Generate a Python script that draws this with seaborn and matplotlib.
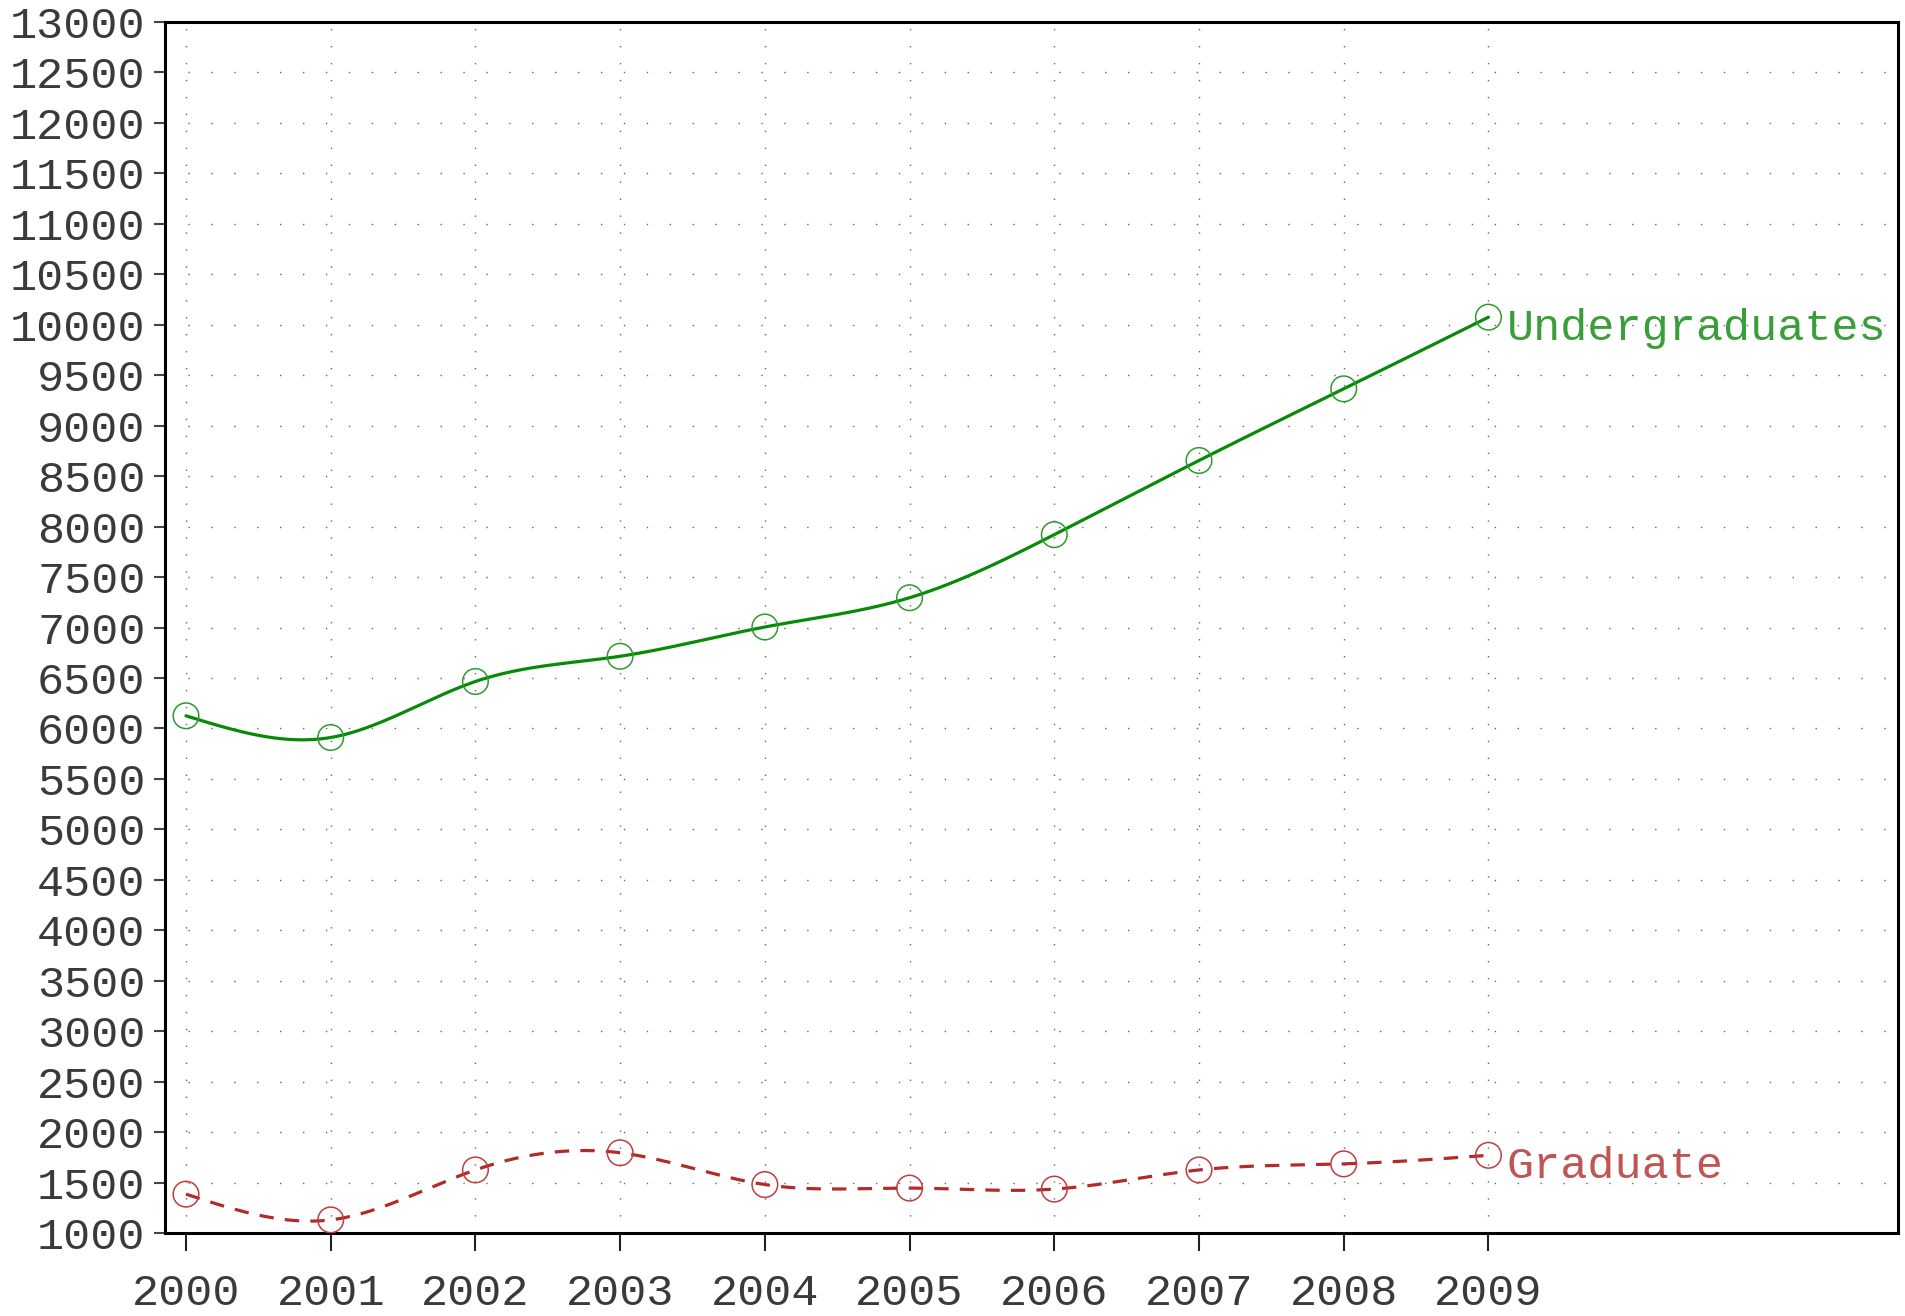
import numpy as np
import pandas as pd
import seaborn as sns
import matplotlib
matplotlib.use("Agg")
import matplotlib.pyplot as plt

years = [2000, 2001, 2002, 2003, 2004, 2005, 2006, 2007, 2008, 2009]
undergrad = [6125, 5910, 6465, 6715, 7005, 7295, 7920, 8655, 9365, 10075]
graduate = [1385, 1130, 1625, 1795, 1480, 1445, 1435, 1625, 1685, 1770]
series_names = ["Undergraduates", "Graduate"]


def natural_spline(x, y, n=400):
    # plain natural cubic spline, just for drawing the smooth curve
    x = np.asarray(x, float)
    y = np.asarray(y, float)
    k = len(x)
    h = np.diff(x)
    A = np.zeros((k, k))
    b = np.zeros(k)
    A[0, 0] = A[-1, -1] = 1
    for i in range(1, k - 1):
        A[i, i - 1] = h[i - 1]
        A[i, i] = 2 * (h[i - 1] + h[i])
        A[i, i + 1] = h[i]
        b[i] = 6 * ((y[i + 1] - y[i]) / h[i] - (y[i] - y[i - 1]) / h[i - 1])
    m = np.linalg.solve(A, b)
    xs = np.linspace(x[0], x[-1], n)
    idx = np.clip(np.searchsorted(x, xs) - 1, 0, k - 2)
    x0, x1 = x[idx], x[idx + 1]
    hh = x1 - x0
    t0, t1 = x1 - xs, xs - x0
    ys = (m[idx] * t0**3 + m[idx + 1] * t1**3) / (6 * hh) \
        + (y[idx] / hh - m[idx] * hh / 6) * t0 \
        + (y[idx + 1] / hh - m[idx + 1] * hh / 6) * t1
    return xs, ys


sns.set_style("white")
plt.rcParams['font.family'] = ['Liberation Mono', 'DejaVu Sans']

fig = plt.figure(figsize=(19.05, 13.16), dpi=100)
ax = fig.add_axes([165 / 1905, 1 - 1233 / 1316, (1898 - 165) / 1905, (1233 - 22) / 1316])

styles = {
    "Undergraduates": dict(line="#078a07", mark="#2e9a2e", text="#3a9e3a", dash=None),
    "Graduate": dict(line="#b22a2a", mark="#c23c3c", text="#c05555", dash=(4.5, 3.5)),
}

for name, vals in zip(series_names, [undergrad, graduate]):
    st = styles[name]
    xs, ys = natural_spline(years, vals)
    curve = pd.DataFrame({"year": xs, "value": ys})
    if st["dash"] is None:
        sns.lineplot(data=curve, x="year", y="value", ax=ax, color=st["line"], lw=2.3)
    else:
        sns.lineplot(data=curve, x="year", y="value", ax=ax, color=st["line"], lw=2.3,
                     dashes=False, linestyle=(0, st["dash"]))
    pts = pd.DataFrame({"year": years, "value": vals})
    sns.scatterplot(data=pts, x="year", y="value", ax=ax, s=340, marker="o",
                    facecolor="none", edgecolor=st["mark"], linewidth=1.1, zorder=5)
    ax.annotate(name, (years[-1], vals[-1]), xytext=(13, -8), textcoords="offset points",
                va="center", ha="left", fontsize=32.5, color=st["text"])

ax.set_xlim(1999.855, 2011.83)
ax.set_ylim(1000, 13000)
ax.set_xticks(years)
ax.set_xticklabels([str(y) for y in years])
ax.set_yticks(np.arange(1000, 13001, 500))
ax.set_xlabel("")
ax.set_ylabel("")

ax.yaxis.grid(True, color="#666666", lw=1.0, linestyle=(0, (1, 15.5)))
ax.xaxis.grid(True, color="#666666", lw=1.0, linestyle=(0, (1, 11.2)))

for sp in ax.spines.values():
    sp.set_visible(True)
    sp.set_color("black")
    sp.set_linewidth(2.2)

ax.tick_params(axis="y", direction="out", length=8, width=1.5, color="#444444",
               labelsize=32.5, labelcolor="#3a3a3a", pad=6, left=True)
ax.tick_params(axis="x", direction="out", length=13, width=1.5, color="#222222",
               labelsize=32.5, labelcolor="#3a3a3a", pad=16, bottom=True)

fig.savefig("out.png", dpi=100)
